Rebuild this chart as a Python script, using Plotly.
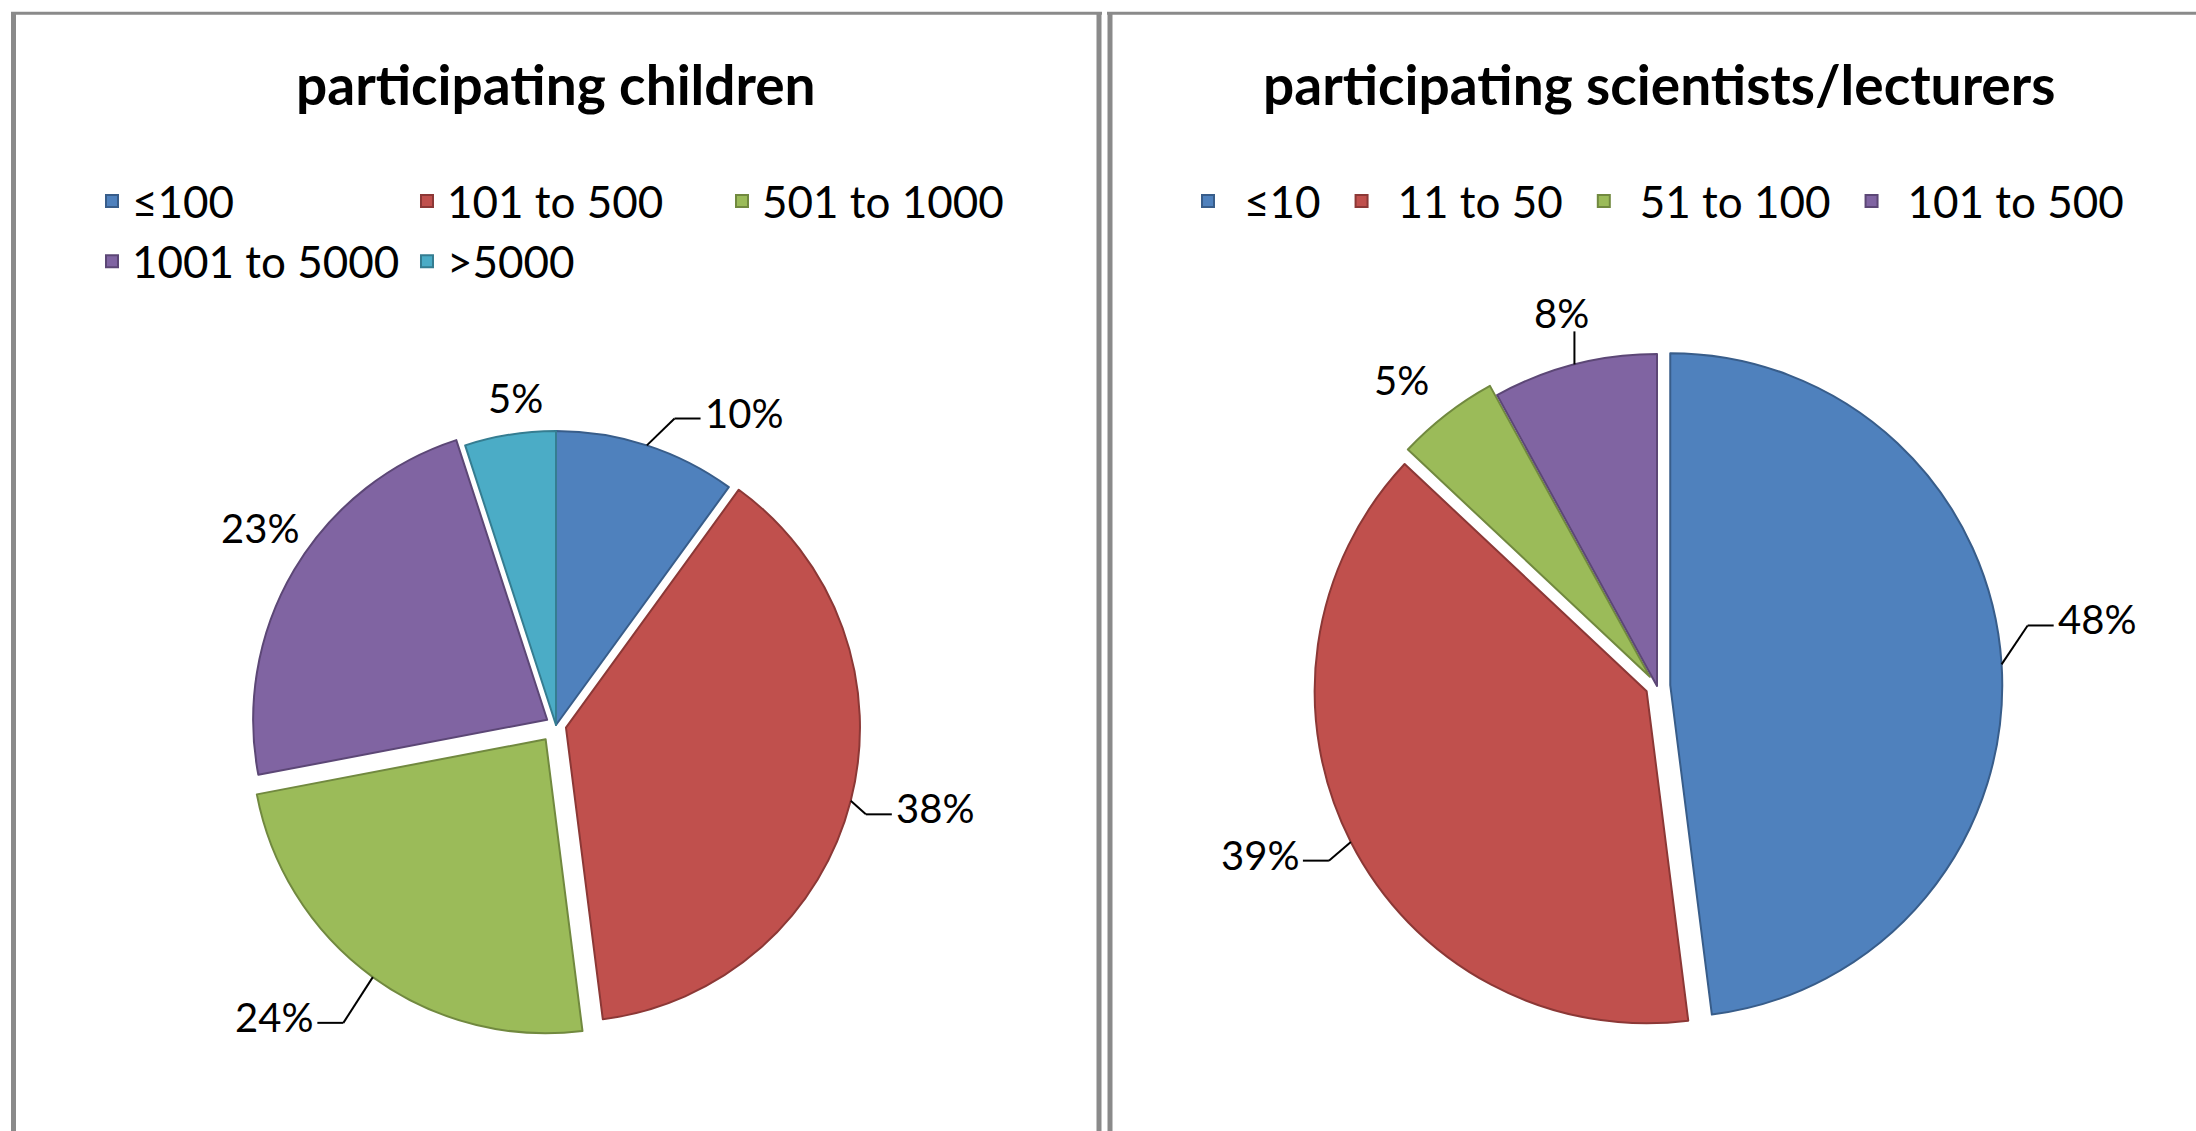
import math
import plotly.graph_objects as go

# ---------------- data ----------------
children_labels = ["≤100", "101 to 500", "501 to 1000", "1001 to 5000", ">5000"]
children_values = [10, 38, 24, 23, 5]          # percent
sci_labels = ["≤10", "11 to 50", "51 to 100", "101 to 500"]
sci_values = [48, 39, 5, 8]                     # percent

titles = ["participating children", "participating scientists/lecturers"]

# ---------------- style ----------------
fills = ["#4F81BD", "#C0504D", "#9BBB59", "#8064A2", "#4BACC6"]
edges = ["#385D8A", "#8C3836", "#71893F", "#5C4776", "#357D91"]
FONT = "Lato"

W, H = 2196, 1131
ML = 92                      # left margin = left edge of first legend
GW, GH = W - ML, H


def px2x(px):
    return (px - ML) / GW


def py2y(py):
    return 1 - py / GH


# pie geometry (pixel centre, base radius, slice explosion)
left_geo = dict(cx=556, cy=725, r=294, pull=[0.0, 0.035, 0.06, 0.035, 0.0])
right_geo = dict(cx=1657, cy=686, r=332, pull=[0.04, 0.035, 0.035, 0.0])
# label nudges: angle offset from slice middle (deg), distance / radius
left_lab = dict(dang=[13, -2, 8, 3, 2], dist=[1.24, 1.32, 1.38, 1.21, 1.12])
right_lab = dict(dang=[-5, 4, -2, 0], dist=[1.34, 1.30, 1.20, 1.16])

LABEL_SIZE = 40
LEGEND_SIZE = 44
TITLE_SIZE = 55

fig = go.Figure()


def domain_for(g):
    box = 2 * g["r"] * (1 + max(g["pull"]))
    return dict(x=[px2x(g["cx"] - box / 2), px2x(g["cx"] + box / 2)],
                y=[py2y(g["cy"] + box / 2), py2y(g["cy"] - box / 2)])


def add_pie(labels, values, g, legend, group):
    n = len(values)
    fig.add_trace(go.Pie(
        labels=labels, values=values, sort=False, direction="clockwise",
        rotation=0, pull=g["pull"], textinfo="none", hoverinfo="label+percent",
        marker=dict(colors=fills[:n], line=dict(color=edges[:n], width=2)),
        domain=domain_for(g), legend=legend, legendgroup=group, showlegend=True,
    ))


add_pie(children_labels, children_values, left_geo, "legend", "children")
add_pie(sci_labels, sci_values, right_geo, "legend2", "scientists")

annotations = []
shapes = []


def line(x0, y0, x1, y1):
    shapes.append(dict(type="line", xref="paper", yref="paper",
                       x0=px2x(x0), y0=py2y(y0), x1=px2x(x1), y1=py2y(y1),
                       line=dict(color="black", width=2)))


def add_labels(values, g, lab):
    total = float(sum(values))
    cum = 0.0
    for i, v in enumerate(values):
        mid = (cum + v / 2) / total * 360.0
        cum += v
        a = math.radians(mid + lab["dang"][i])
        lx = g["cx"] + lab["dist"][i] * g["r"] * math.sin(a)
        ly = g["cy"] - lab["dist"][i] * g["r"] * math.cos(a)
        txt = f"{v}%"
        annotations.append(dict(x=px2x(lx), y=py2y(ly), xref="paper", yref="paper",
                                text=txt, showarrow=False, xanchor="center",
                                yanchor="middle",
                                font=dict(family=FONT, size=LABEL_SIZE, color="black")))
        # leader line to the exploded slice edge at its middle angle
        m = math.radians(mid)
        rr = g["r"] * (1 + g["pull"][i])
        ex = g["cx"] + rr * math.sin(m)
        ey = g["cy"] - rr * math.cos(m)
        hw = 0.5 * LABEL_SIZE * (0.58 * (len(txt) - 1) + 0.8)
        hh = 0.36 * LABEL_SIZE
        dx = max(abs(ex - lx) - hw, 0)
        dy = max(abs(ey - ly) - hh, 0)
        if math.hypot(dx, dy) < 30:
            continue
        if lx - hw - 20 <= ex <= lx + hw + 20:
            ax = min(max(ex, lx - hw), lx + hw)
            ay = ly + (hh + 4) * (1 if ey > ly else -1)
            line(ax, ay, ex, ey)
        else:
            s = 1 if ex > lx else -1
            ax = lx + s * (hw + 4)
            ay = ly + 6
            bx = ax + s * 26
            line(ax, ay, bx, ay)
            line(bx, ay, ex, ey)


add_labels(children_values, left_geo, left_lab)
add_labels(sci_values, right_geo, right_lab)

# chart titles
for t, cx in zip(titles, [556, 1659]):
    annotations.append(dict(x=px2x(cx), y=py2y(84), xref="paper", yref="paper",
                            text=t, showarrow=False, xanchor="center", yanchor="middle",
                            font=dict(family=FONT, size=TITLE_SIZE, color="black",
                                      weight="bold")))

# panel frames
FRAME = "#8a8a8a"
frame_lines = [
    (13.5, 12, 13.5, H + 5, 5),
    (11, 13.2, 1102, 13.2, 3),
    (1099, 12, 1099, H + 5, 5),
    (1110, 12, 1110, H + 5, 5),
    (1107, 13.2, W + 5, 13.2, 3),
]
for x0, y0, x1, y1, w in frame_lines:
    shapes.append(dict(type="line", xref="paper", yref="paper", layer="below",
                       x0=px2x(x0), y0=py2y(y0), x1=px2x(x1), y1=py2y(y1),
                       line=dict(color=FRAME, width=w)))

legend_common = dict(orientation="h", yanchor="top", y=py2y(166), xanchor="left",
                     traceorder="normal", bgcolor="rgba(0,0,0,0)", borderwidth=0,
                     font=dict(family=FONT, size=LEGEND_SIZE, color="black"))

fig.update_layout(
    width=W, height=H,
    margin=dict(l=ML, r=0, t=0, b=0, autoexpand=False),
    paper_bgcolor="white", plot_bgcolor="white",
    annotations=annotations, shapes=shapes,
    legend=dict(x=-1e-6, entrywidth=270, entrywidthmode="pixels", **legend_common),
    legend2=dict(x=px2x(1172), itemwidth=62, **legend_common),
)

fig.write_html("out.html", config={"displayModeBar": False},
               post_script="document.body.style.margin='0';")
